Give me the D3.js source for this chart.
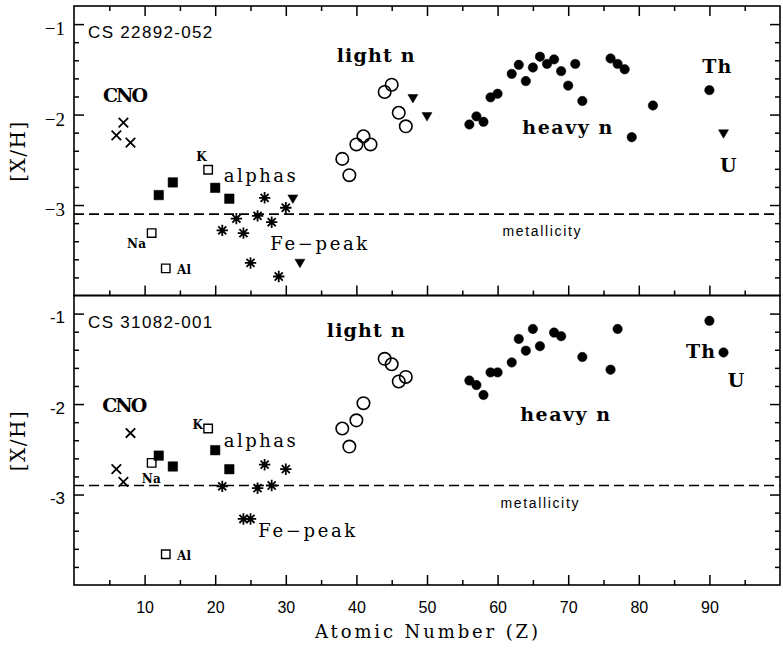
<!DOCTYPE html>
<html>
<head>
<meta charset="utf-8">
<script src="https://cdn.jsdelivr.net/npm/d3@7"></script>
<style>
    body { margin: 0; background: #fff; }
</style>
</head>
<body>
<div id="chart"></div>
<script>
// atomic numbers (Z) and [X/H], top = CS 22892-052, bottom = CS 31082-001
var cnoZ = [6, 7, 8];
var cnoTop = [-2.23, -2.09, -2.31];
var cnoBottom = [-2.72, -2.86, -2.32];

// Na, Al, K (open squares)
var oddZ = [11, 13, 19];
var oddTop = [-3.31, -3.70, -2.61];
var oddBottom = [-2.65, -3.66, -2.27];

// Mg, Si, Ca, Ti (filled squares)
var alphaZ = [12, 14, 20, 22];
var alphaTop = [-2.89, -2.75, -2.81, -2.93];
var alphaBottom = [-2.57, -2.69, -2.51, -2.72];

// Fe-peak (asterisks)
var feTopZ = [21, 23, 24, 25, 26, 27, 28, 29, 30];
var feTop = [-3.28, -3.15, -3.31, -3.64, -3.12, -2.92, -3.19, -3.79, -3.03];
var feBottomZ = [21, 24, 25, 26, 27, 28, 30];
var feBottom = [-2.91, -3.27, -3.27, -2.93, -2.67, -2.90, -2.72];

// upper limits (top panel only)
var limitTopZ = [31, 32, 48, 50, 92];
var limitTop = [-2.93, -3.64, -1.82, -2.02, -2.21];

// light n-capture (open circles)
var lightTopZ = [38, 39, 40, 41, 42, 44, 45, 46, 47];
var lightTop = [-2.49, -2.67, -2.33, -2.24, -2.33, -1.75, -1.67, -1.98, -2.13];
var lightBottomZ = [38, 39, 40, 41, 44, 45, 46, 47];
var lightBottom = [-2.27, -2.47, -2.18, -1.99, -1.50, -1.56, -1.75, -1.70];

// heavy n-capture (filled circles)
var heavyTopZ = [56, 57, 58, 59, 60, 62, 63, 64, 65, 66, 67, 68, 69, 70, 71, 72, 76, 77, 78, 79, 82, 90];
var heavyTop = [-2.11, -2.02, -2.08, -1.81, -1.77, -1.55, -1.45, -1.63, -1.48, -1.36, -1.44, -1.39,
                -1.52, -1.68, -1.44, -1.85, -1.38, -1.44, -1.50, -2.25, -1.90, -1.73];
var heavyBottomZ = [56, 57, 58, 59, 60, 62, 63, 64, 65, 66, 68, 69, 72, 76, 77, 90, 92];
var heavyBottom = [-1.74, -1.79, -1.90, -1.65, -1.65, -1.54, -1.28, -1.41, -1.17, -1.36, -1.21,
                   -1.25, -1.48, -1.62, -1.17, -1.08, -1.43];

var metallicity = [-3.1, -2.9];
var starNames = ["CS 22892-052", "CS 31082-001"];

var xMajor = [10, 20, 30, 40, 50, 60, 70, 80, 90];
var xMinor = [5, 15, 25, 35, 45, 55, 65, 75, 85, 95];
var yMajor = [-1, -2, -3];
var yMinor = [-1.2, -1.4, -1.6, -1.8, -2.2, -2.4, -2.6, -2.8, -3.2, -3.4, -3.6, -3.8];

window.onload = () => {

    var w = 783;
    var h = 653;
    var left = 74, right = 780;

    var serif = "'DejaVu Serif', serif";
    var sans = "'Liberation Sans', Arial, sans-serif";

    var svg = d3.select("#chart")
        .append("svg")
        .attr("width", w)
        .attr("height", h);

    var xScale = d3.scaleLinear()
        .domain([0, 100])
        .range([left, right]);

    // marker shapes not in d3.symbol's default set
    var symTimes = {
        draw: (ctx, size) => {
            var r = Math.sqrt(size) / 2;
            ctx.moveTo(-r, -r); ctx.lineTo(r, r);
            ctx.moveTo(r, -r); ctx.lineTo(-r, r);
        }
    };
    var symAsterisk = {
        draw: (ctx, size) => {
            var r = Math.sqrt(size) / 2;
            for (var i = 0; i < 4; i++) {
                var a = i * Math.PI / 4;
                ctx.moveTo(-r * Math.cos(a), -r * Math.sin(a));
                ctx.lineTo(r * Math.cos(a), r * Math.sin(a));
            }
        }
    };
    var symTriDown = {
        draw: (ctx, size) => {
            var r = Math.sqrt(size) / 2;
            ctx.moveTo(-r, -r * 0.75);
            ctx.lineTo(r, -r * 0.75);
            ctx.lineTo(0, r * 0.95);
            ctx.closePath();
        }
    };

    const plotGroup = (g, yScale, zs, vs, type, size, fill, strokeW) => {
        g.selectAll(null)
            .data(zs.map((z, i) => ({ z: z, v: vs[i] })))
            .enter()
            .append("path")
            .attr("transform", (d) => `translate(${xScale(d.z)},${yScale(d.v)})`)
            .attr("d", d3.symbol().type(type).size(size))
            .attr("fill", fill)
            .attr("stroke", "#000")
            .attr("stroke-width", strokeW);
    };

    const label = (g, x, y, text, opts) => {
        var t = g.append("text")
            .attr("x", x)
            .attr("y", y)
            .attr("font-family", opts.font)
            .attr("font-size", opts.size)
            .attr("font-weight", opts.bold ? "bold" : "normal")
            .attr("fill", "#000")
            .text(text);
        if (opts.len) t.attr("textLength", opts.len);
        return t;
    };

    const styleAxis = (g) => {
        g.select(".domain").remove();
        g.selectAll(".tick line").attr("stroke", "#000").attr("stroke-width", 1.5);
    };

    const drawPanel = (top, bottom, p) => {
        var g = svg.append("g");
        var yScale = d3.scaleLinear()
            .domain([-4, -0.8])
            .range([bottom, top]);

        // left ticks with labels
        var minus = p == 0 ? "\u2212" : "-";
        g.append("g")
            .attr("transform", `translate(${left},0)`)
            .call(d3.axisLeft(yScale).tickValues(yMajor).tickSizeInner(-10).tickSizeOuter(0)
                .tickPadding(9).tickFormat((d) => minus + Math.abs(d)))
            .call(styleAxis)
            .selectAll("text")
            .attr("dy", "0.55em")
            .attr("font-family", p == 0 ? "'Liberation Serif', serif" : sans)
            .attr("font-size", p == 0 ? 19 : 17)
            .attr("fill", "#000");
        g.append("g")
            .attr("transform", `translate(${left},0)`)
            .call(d3.axisLeft(yScale).tickValues(yMinor).tickSize(-5).tickFormat(""))
            .call(styleAxis);

        // right ticks
        g.append("g")
            .attr("transform", `translate(${right},0)`)
            .call(d3.axisRight(yScale).tickValues(yMajor).tickSize(-10).tickFormat(""))
            .call(styleAxis);
        g.append("g")
            .attr("transform", `translate(${right},0)`)
            .call(d3.axisRight(yScale).tickValues(yMinor).tickSize(-5).tickFormat(""))
            .call(styleAxis);

        // top ticks only on the upper panel
        if (p == 0) {
            g.append("g")
                .attr("transform", `translate(0,${top})`)
                .call(d3.axisTop(xScale).tickValues(xMajor).tickSize(-10).tickFormat(""))
                .call(styleAxis);
            g.append("g")
                .attr("transform", `translate(0,${top})`)
                .call(d3.axisTop(xScale).tickValues(xMinor).tickSize(-5).tickFormat(""))
                .call(styleAxis);
        }

        var xAx = g.append("g")
            .attr("transform", `translate(0,${bottom})`)
            .call(d3.axisBottom(xScale).tickValues(xMajor).tickSizeInner(-10).tickSizeOuter(0)
                .tickPadding(17).tickFormat(p == 1 ? d3.format("d") : ""))
            .call(styleAxis);
        xAx.selectAll("text")
            .attr("font-family", sans)
            .attr("font-size", 16)
            .attr("fill", "#000");
        g.append("g")
            .attr("transform", `translate(0,${bottom})`)
            .call(d3.axisBottom(xScale).tickValues(xMinor).tickSize(-5).tickFormat(""))
            .call(styleAxis);

        // metallicity line
        g.append("line")
            .attr("x1", xScale(0))
            .attr("x2", xScale(100))
            .attr("y1", yScale(metallicity[p]))
            .attr("y2", yScale(metallicity[p]))
            .attr("stroke", "#000")
            .attr("stroke-width", 1.6)
            .attr("stroke-dasharray", "10,5");

        // frame
        g.append("rect")
            .attr("x", left)
            .attr("y", top)
            .attr("width", right - left)
            .attr("height", bottom - top)
            .attr("fill", "none")
            .attr("stroke", "#000")
            .attr("stroke-width", 1.6);

        var d = p == 0
            ? { cno: cnoTop, odd: oddTop, alpha: alphaTop, feZ: feTopZ, fe: feTop,
                lightZ: lightTopZ, light: lightTop, heavyZ: heavyTopZ, heavy: heavyTop }
            : { cno: cnoBottom, odd: oddBottom, alpha: alphaBottom, feZ: feBottomZ, fe: feBottom,
                lightZ: lightBottomZ, light: lightBottom, heavyZ: heavyBottomZ, heavy: heavyBottom };

        plotGroup(g, yScale, cnoZ, d.cno, symTimes, 90, "none", 1.8);
        plotGroup(g, yScale, oddZ, d.odd, d3.symbolSquare, 72, "#fff", 1.4);
        plotGroup(g, yScale, alphaZ, d.alpha, d3.symbolSquare, 90, "#000", 0.5);
        plotGroup(g, yScale, d.feZ, d.fe, symAsterisk, 130, "none", 1.8);
        plotGroup(g, yScale, d.lightZ, d.light, d3.symbolCircle, 122, "none", 1.6);
        plotGroup(g, yScale, d.heavyZ, d.heavy, d3.symbolCircle, 70, "#000", 0.5);
        if (p == 0) plotGroup(g, yScale, limitTopZ, limitTop, symTriDown, 100, "#000", 0.5);

        // annotations, placed in data coordinates
        var big = { font: serif, size: 19, bold: true };
        var small = { font: serif, size: 12, bold: true };
        var off = p == 0 ? 0 : 1;
        var A = [
            // text, [z, v top], [z, v bottom], style, width
            ["CNO", [4.1, -1.863], [4.0, -2.084], big, 45],
            ["K", [17.3, -2.516], [16.8, -2.272], small, 0],
            ["Na", [7.5, -3.48], [9.6, -2.87], small, 19],
            ["Al", [14.6, -3.767], [14.6, -3.723], small, 14],
            ["alphas", [21.2, -2.749], [21.2, -2.472], { font: serif, size: 18 }, 72],
            ["Fe\u2212peak", [27.8, -3.50], [26.1, -3.468], { font: serif, size: 18 }, 97],
            ["light n", [37.2, -1.42], [35.8, -1.254], big, 78],
            ["heavy n", [63.5, -2.217], [63.2, -2.184], big, 90],
            ["Th", [89.0, -1.54], [86.7, -1.486], big, 29],
            ["U", [91.5, -2.64], [92.6, -1.807], big, 0],
            ["metallicity", [60.7, -3.347], [60.4, -3.147], { font: sans, size: 14 }, 78],
            [starNames[p], [2.0, -1.154], [2.0, -1.154], { font: sans, size: 17 }, 124]
        ];
        A.forEach((a) => {
            var pos = a[1 + off];
            label(g, xScale(pos[0]), yScale(pos[1]), a[0], Object.assign({ len: a[4] }, a[3]));
        });

        // y title
        g.append("text")
            .attr("transform", `translate(25,${(top + bottom) / 2 + 1}) rotate(-90)`)
            .attr("text-anchor", "middle")
            .attr("font-family", serif)
            .attr("font-size", 20)
            .attr("textLength", 60)
            .text("[X/H]");
    };

    drawPanel(6, 295.5, 0);
    drawPanel(295.5, 585, 1);

    svg.append("text")
        .attr("x", 315)
        .attr("y", 638)
        .attr("font-family", serif)
        .attr("font-size", 18)
        .attr("textLength", 223)
        .text("Atomic Number (Z)");
}
</script>
</body>
</html>
